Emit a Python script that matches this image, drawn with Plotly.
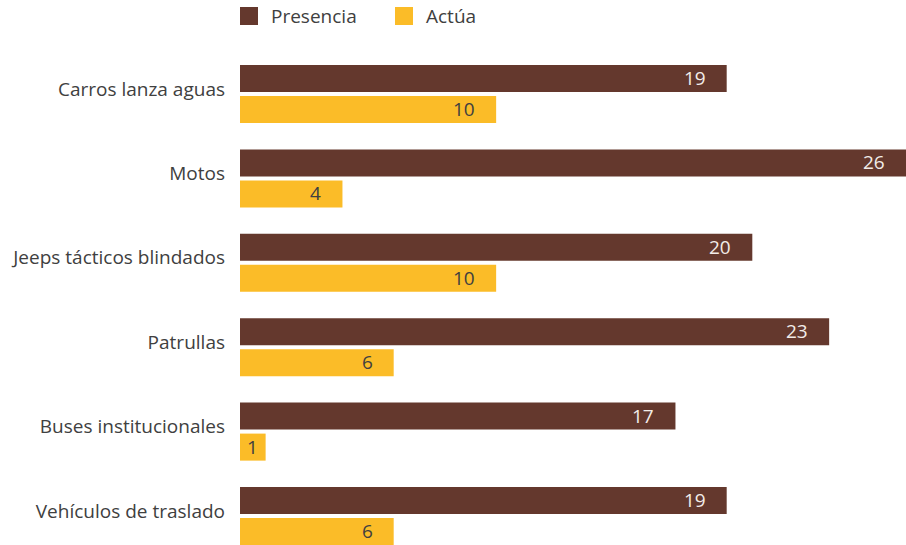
import plotly.graph_objects as go

categories = ["Carros lanza aguas", "Motos", "Jeeps tácticos blindados",
              "Patrullas", "Buses institucionales", "Vehículos de traslado"]
presencia = [19, 26, 20, 23, 17, 19]
actua = [10, 4, 10, 6, 1, 6]
series_names = ["Presencia", "Actúa"]

BROWN = "#64382d"
YELLOW = "#fbbc28"
FONT = "Open Sans"
TXT = "#404040"
FS = 19

W, H = 906, 545
ML, MT = 240, 52
plot_w = W - ML
plot_h = H - MT

fig = go.Figure()
fig.add_trace(go.Bar(y=categories, x=presencia, orientation="h", name=series_names[0],
                     marker=dict(color=BROWN, line=dict(width=0)), hoverinfo="x+name"))
fig.add_trace(go.Bar(y=categories, x=actua, orientation="h", name=series_names[1],
                     marker=dict(color=YELLOW, line=dict(width=0)), hoverinfo="x+name"))

xmax = 26
px_per_unit = plot_w / xmax
annotations = []
for vals, ysh, col in [(presencia, 16, "#f2ece8"), (actua, -15, TXT)]:
    for c, v in zip(categories, vals):
        if v * px_per_unit < 45:
            annotations.append(dict(x=v / 2, y=c, xref="x", yref="y", text=str(v),
                                    showarrow=False, xanchor="center", yshift=ysh,
                                    font=dict(family=FONT, size=FS, color=col)))
        else:
            annotations.append(dict(x=v, y=c, xref="x", yref="y", text=str(v),
                                    showarrow=False, xanchor="right", xshift=-19, yshift=ysh,
                                    font=dict(family=FONT, size=FS, color=col)))

# manual legend
shapes = []
leg = [(series_names[0], BROWN, 240), (series_names[1], YELLOW, 395)]
for name, col, px in leg:
    x0 = (px - ML) / plot_w
    x1 = (px + 18 - ML) / plot_w
    y0 = (H - 25) / plot_h
    y1 = (H - 7) / plot_h
    shapes.append(dict(type="rect", xref="paper", yref="paper", x0=x0, x1=x1, y0=y0, y1=y1,
                       fillcolor=col, line=dict(width=0)))
    annotations.append(dict(x=(px + 29 - ML) / plot_w, y=(H - 16) / plot_h, xref="paper", yref="paper",
                            text=name, showarrow=False, xanchor="left", yanchor="middle",
                            font=dict(family=FONT, size=FS, color=TXT)))

band = 84.4
top_val = -(94 - MT) / band
bot_val = 5 + (H - 516) / band

fig.update_layout(
    width=W, height=H,
    margin=dict(l=ML, r=0, t=MT, b=0, pad=0),
    barmode="group", bargap=0.265, bargroupgap=0.129,
    plot_bgcolor="white", paper_bgcolor="white",
    showlegend=False,
    font=dict(family=FONT, size=FS, color=TXT),
    xaxis=dict(range=[0, xmax], visible=False, showgrid=False, zeroline=False),
    yaxis=dict(type="category", range=[bot_val, top_val], showgrid=False, zeroline=False,
               showline=False, ticks="", ticklabelstandoff=14, ticklabelshift=5,
               tickfont=dict(family=FONT, size=FS, color=TXT)),
    shapes=shapes, annotations=annotations,
)

fig.write_html("out.html", config={"displayModeBar": False},
               post_script="document.body.style.margin='0';document.body.style.padding='0';")
